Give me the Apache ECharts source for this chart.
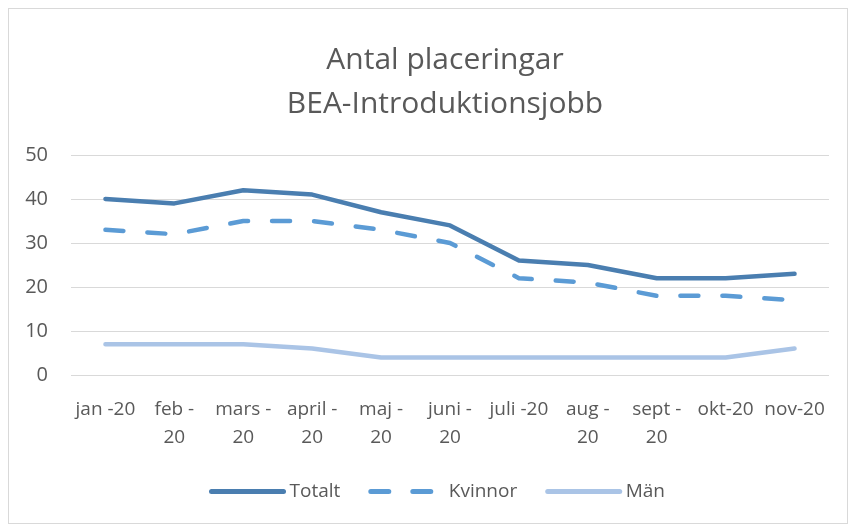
<!DOCTYPE html>
<html>
<head>
<meta charset="utf-8">
<script src="https://cdn.jsdelivr.net/npm/echarts@6/dist/echarts.min.js"></script>
<style>
  html, body { margin: 0; padding: 0; background: #fff; }
  #frame { position: absolute; left: 8px; top: 8px; width: 838px; height: 514px; border: 1px solid #d9d9d9; }
  #chart { position: absolute; left: 0; top: 0; width: 853px; height: 529px; }
</style>
</head>
<body>
<div id="frame"></div>
<div id="chart"></div>
<script>
  // data
  const months = ['jan -20', 'feb -\n20', 'mars -\n20', 'april -\n20', 'maj -\n20', 'juni -\n20',
    'juli -20', 'aug -\n20', 'sept -\n20', 'okt-20', 'nov-20'];
  const totalt = [40, 39, 42, 41, 37, 34, 26, 25, 22, 22, 23];
  const kvinnor = [33, 32, 35, 35, 33, 30, 22, 21, 18, 18, 17];
  const man = [7, 7, 7, 6, 4, 4, 4, 4, 4, 4, 6];
  const yTicks = [0, 10, 20, 30, 40, 50];

  const font = '"Open Sans", Lato, sans-serif';
  const grey = '#595959';

  const chart = echarts.init(document.getElementById('chart'));
  chart.setOption({
    animation: false,
    textStyle: { fontFamily: font },
    title: {
      text: 'Antal placeringar\nBEA-Introduktionsjobb',
      left: 440,
      top: 33,
      textAlign: 'center',
      textStyle: { fontFamily: font, fontSize: 30, fontWeight: 'normal', color: grey, lineHeight: 44 }
    },
    grid: { left: 71, right: 24, top: 155, bottom: 154 },
    legend: {
      top: 477,
      left: 204,
      width: 640,
      itemWidth: 72,
      itemHeight: 14,
      itemGap: 28,
      itemStyle: { opacity: 0 },
      lineStyle: { width: 5 },
      textStyle: { fontFamily: font, fontSize: 19, color: grey, padding: [0, 0, 0, 1] },
      data: ['Totalt', 'Kvinnor', 'Män']
    },
    xAxis: {
      type: 'category',
      data: months,
      boundaryGap: true,
      axisLine: { show: false },
      axisTick: { show: false },
      axisLabel: { interval: 0, color: grey, fontSize: 19, lineHeight: 28, margin: 21, fontFamily: font }
    },
    yAxis: {
      type: 'value',
      min: yTicks[0],
      max: yTicks[yTicks.length - 1],
      interval: 10,
      axisLine: { show: false },
      axisTick: { show: false },
      axisLabel: { color: grey, fontSize: 20, margin: 23, fontFamily: font },
      splitLine: { lineStyle: { color: '#d9d9d9', width: 1 } }
    },
    series: [
      {
        name: 'Totalt', type: 'line', data: totalt, symbol: 'none',
        lineStyle: { color: '#4a7eb0', width: 4.5, cap: 'round', join: 'round' },
        itemStyle: { color: '#4a7eb0' }
      },
      {
        name: 'Kvinnor', type: 'line', data: kvinnor, symbol: 'none',
        lineStyle: { color: '#5b9bd5', width: 4.5, type: [18, 24], cap: 'round', join: 'round' },
        itemStyle: { color: '#5b9bd5' }
      },
      {
        name: 'Män', type: 'line', data: man, symbol: 'none',
        lineStyle: { color: '#aac4e6', width: 4.5, cap: 'round', join: 'round' },
        itemStyle: { color: '#aac4e6' }
      }
    ]
  });
</script>
</body>
</html>
